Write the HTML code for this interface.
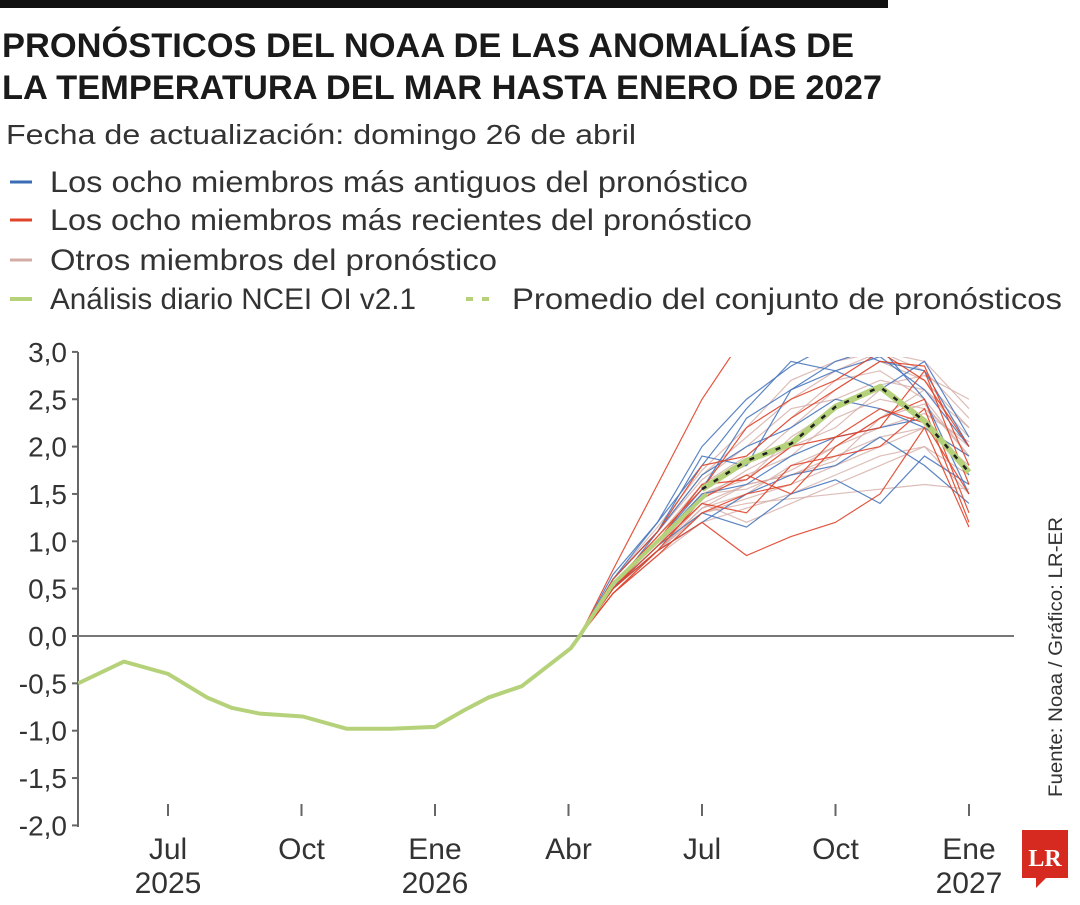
<!DOCTYPE html>
<html><head><meta charset="utf-8"><style>
body{margin:0;background:#fff;width:1080px;height:900px;overflow:hidden;font-family:"Liberation Sans",sans-serif}
svg text{font-family:"Liberation Sans",sans-serif}
</style></head><body>
<svg id="chart" width="1080" height="900">
<rect x="0" y="0" width="888" height="8" fill="#111"/>
<text x="2" y="57" font-size="34" font-weight="bold" fill="#1a1a1a" textLength="852" lengthAdjust="spacingAndGlyphs">PRONÓSTICOS DEL NOAA DE LAS ANOMALÍAS DE</text>
<text x="2" y="99" font-size="34" font-weight="bold" fill="#1a1a1a" textLength="880" lengthAdjust="spacingAndGlyphs">LA TEMPERATURA DEL MAR HASTA ENERO DE 2027</text>
<text x="6" y="144" font-size="28" fill="#333" textLength="630" lengthAdjust="spacingAndGlyphs">Fecha de actualización: domingo 26 de abril</text>
<g>
<line x1="10" y1="182" x2="32" y2="182" stroke="#3a6db5" stroke-width="3"/>
<text x="50" y="192" font-size="30" fill="#333" textLength="698" lengthAdjust="spacingAndGlyphs">Los ocho miembros más antiguos del pronóstico</text>
<line x1="10" y1="220" x2="32" y2="220" stroke="#e0442a" stroke-width="3"/>
<text x="50" y="230" font-size="30" fill="#333" textLength="702" lengthAdjust="spacingAndGlyphs">Los ocho miembros más recientes del pronóstico</text>
<line x1="10" y1="260" x2="32" y2="260" stroke="#d4aca6" stroke-width="3"/>
<text x="50" y="270" font-size="30" fill="#333" textLength="447" lengthAdjust="spacingAndGlyphs">Otros miembros del pronóstico</text>
<line x1="10" y1="299" x2="32" y2="299" stroke="#b5d27a" stroke-width="4"/>
<text x="50" y="309" font-size="30" fill="#333" textLength="366" lengthAdjust="spacingAndGlyphs">Análisis diario NCEI OI v2.1</text>
<line x1="466" y1="299" x2="492" y2="299" stroke="#b5d27a" stroke-width="4" stroke-dasharray="7,9"/>
<text x="512" y="309" font-size="30" fill="#333" textLength="550" lengthAdjust="spacingAndGlyphs">Promedio del conjunto de pronósticos</text>
</g>
<text transform="translate(1062,797) rotate(-90)" font-size="19" fill="#333" textLength="280" lengthAdjust="spacingAndGlyphs">Fuente: Noaa / Gráfico: LR-ER</text>
<g>
<rect x="1022" y="830" width="46" height="48" fill="#d62a20"/>
<polygon points="1036,878 1046,878 1036,888" fill="#d62a20"/>
<text x="1045" y="866" font-size="24" font-weight="bold" fill="#fff" text-anchor="middle" style="font-family:'Liberation Serif',serif">LR</text>
</g>
<defs><clipPath id="pc"><rect x="78" y="357" width="940" height="480"/></clipPath></defs>
<g id="axes"></g>
<g id="marks" clip-path="url(#pc)"></g>
</svg>
<script>
const yTicks=[3,2.5,2,1.5,1,0.5,0,-0.5,-1,-1.5,-2];
const yLabels=["3,0","2,5","2,0","1,5","1,0","0,5","0,0","-0,5","-1,0","-1,5","-2,0"];
const xTickMonths=[0,3,6,9,12,15,18];
const xLabels1=["Jul","Oct","Ene","Abr","Jul","Oct","Ene"];
const xLabels2=["2025","","2026","","","","2027"];
const obsMonths=[-2.02,-0.99,0,0.88,1.44,2.07,3.03,4.02,5.0,6.0,6.67,7.2,7.95,9.05,9.25,10,11,12.1];
const obsValues=[-0.5,-0.27,-0.4,-0.65,-0.76,-0.82,-0.85,-0.98,-0.98,-0.96,-0.78,-0.65,-0.53,-0.13,0,0.55,1.0,1.5];
const fcMonths=[9.25,10,11,12,13,14,15,16,17,18];
const meanValues=[0,0.55,1.0,1.55,1.85,2.03,2.42,2.63,2.27,1.73];
const blueMembers=[
[0,0.6,1.2,2.0,2.5,2.85,3.1,2.9,2.8,2.0],
[0,0.5,1.1,1.9,1.8,2.6,2.9,3.05,2.5,1.5],
[0,0.55,1.0,1.55,2.3,2.6,2.8,2.95,2.6,2.0],
[0,0.5,0.9,1.2,1.5,1.7,1.8,2.1,1.8,1.4],
[0,0.6,1.1,1.7,2.0,2.2,2.5,2.4,2.2,1.9],
[0,0.5,0.95,1.3,1.15,1.5,1.65,1.4,1.9,1.6],
[0,0.65,1.2,1.8,2.4,2.9,2.8,2.6,2.9,2.1],
[0,0.55,1.0,1.5,1.6,1.9,2.1,2.2,2.3,1.7]];
const redMembers=[
[0,0.7,1.6,2.5,3.2,3.2,3.2,3.2,3.2,3.0],
[0,0.5,0.9,1.2,0.85,1.05,1.2,1.5,2.2,1.15],
[0,0.45,0.9,1.45,1.7,1.5,2.0,2.3,2.5,1.3],
[0,0.5,1.0,1.6,1.65,2.0,2.1,2.2,2.8,1.6],
[0,0.6,1.1,1.8,1.9,2.3,2.6,2.9,2.85,1.8],
[0,0.5,0.95,1.4,1.3,1.8,1.9,2.0,2.4,1.2],
[0,0.55,1.05,1.55,2.2,2.5,2.7,3.0,2.7,2.0],
[0,0.45,0.85,1.3,1.5,1.6,2.1,2.4,2.25,1.5]];
const otherMembers=[
[0,0.5,0.9,1.3,1.4,1.45,1.5,1.55,1.6,1.55],
[0,0.55,1.0,1.6,1.8,2.2,2.6,2.9,2.7,2.2],
[0,0.5,0.95,1.4,1.6,1.7,1.9,2.1,2.2,1.9],
[0,0.6,1.1,1.7,2.1,2.5,2.8,3.0,2.8,2.3],
[0,0.45,0.85,1.2,1.35,1.5,1.7,1.9,2.0,1.7],
[0,0.5,1.0,1.5,1.7,1.9,2.3,2.5,2.4,2.0],
[0,0.55,1.05,1.6,1.9,2.3,2.7,2.8,2.5,1.9],
[0,0.5,0.9,1.35,1.5,1.8,2.0,2.3,2.6,2.1],
[0,0.6,1.15,1.75,2.2,2.7,2.9,3.0,2.9,2.4],
[0,0.45,0.9,1.3,1.45,1.6,1.8,2.0,2.2,1.8],
[0,0.5,0.95,1.45,1.75,2.0,2.2,2.6,2.3,1.7],
[0,0.55,1.0,1.5,1.55,1.75,2.0,2.2,2.35,2.05],
[0,0.5,0.9,1.4,1.2,1.4,1.6,1.8,2.0,1.5],
[0,0.6,1.1,1.65,2.0,2.4,2.5,2.7,2.6,2.2],
[0,0.5,0.95,1.5,1.65,2.1,2.4,2.65,2.75,2.5],
[0,0.45,0.9,1.35,1.6,1.7,1.85,2.3,2.45,1.9]];
const NS="http://www.w3.org/2000/svg";
const X=m=>168+m*44.5;
const Y=v=>636-v*94.7;
const ax=document.getElementById('axes'),mk=document.getElementById('marks');
function el(t,a,p){const e=document.createElementNS(NS,t);for(const k in a)e.setAttribute(k,a[k]);p.appendChild(e);return e;}
const yAxis=el('line',{x1:78,y1:352,x2:78,y2:827,stroke:'#666','stroke-width':2},ax);


yTicks.forEach((v,i)=>{
 const tk=el('line',{x1:72,y1:Y(v),x2:78,y2:Y(v),stroke:'#666','stroke-width':2},ax);
 
 
 const t=el('text',{x:67,y:Y(v)+10,'font-size':28,'text-anchor':'end',fill:'#333'},ax);
 t.textContent=yLabels[i];
 
 
});
const zl=el('line',{x1:78,y1:Y(0),x2:1014,y2:Y(0),stroke:'#777','stroke-width':2},ax);


xTickMonths.forEach((m,i)=>{
 const tk=el('line',{x1:X(m),y1:804,x2:X(m),y2:816,stroke:'#666','stroke-width':2},ax);
 
 
 const t=el('text',{x:X(m),y:859,'font-size':30,'text-anchor':'middle',fill:'#333'},ax);
 t.textContent=xLabels1[i];
 
 
 if(xLabels2[i]){const t2=el('text',{x:X(m),y:893,'font-size':30,'text-anchor':'middle',fill:'#333'},ax);
 t2.textContent=xLabels2[i];
 
 }
});
function pts(ms,vs){return vs.map((v,i)=>X(ms[i])+','+Y(v)).join(' ');}
otherMembers.forEach(s=>{const p=el('polyline',{points:pts(fcMonths,s),fill:'none',stroke:'#d4aca6','stroke-width':1.2,opacity:0.8},mk);
 
 });
blueMembers.forEach(s=>{const p=el('polyline',{points:pts(fcMonths,s),fill:'none',stroke:'#4a78bd','stroke-width':1.2,opacity:0.9},mk);
 
 });
redMembers.forEach(s=>{const p=el('polyline',{points:pts(fcMonths,s),fill:'none',stroke:'#e0442a','stroke-width':1.2,opacity:0.9},mk);
 
 });
const ob=el('polyline',{points:pts(obsMonths,obsValues),fill:'none',stroke:'#b5d27a','stroke-width':4,'stroke-linejoin':'round'},mk);


const mm=fcMonths.slice(3),mv=meanValues.slice(3);
const m1=el('polyline',{points:pts(mm,mv),fill:'none',stroke:'#b5d27a','stroke-width':6},mk);


const m2=el('polyline',{points:pts(mm,mv),fill:'none',stroke:'#222','stroke-width':2.5,'stroke-dasharray':'5,9'},mk);


</script>
</body></html>
